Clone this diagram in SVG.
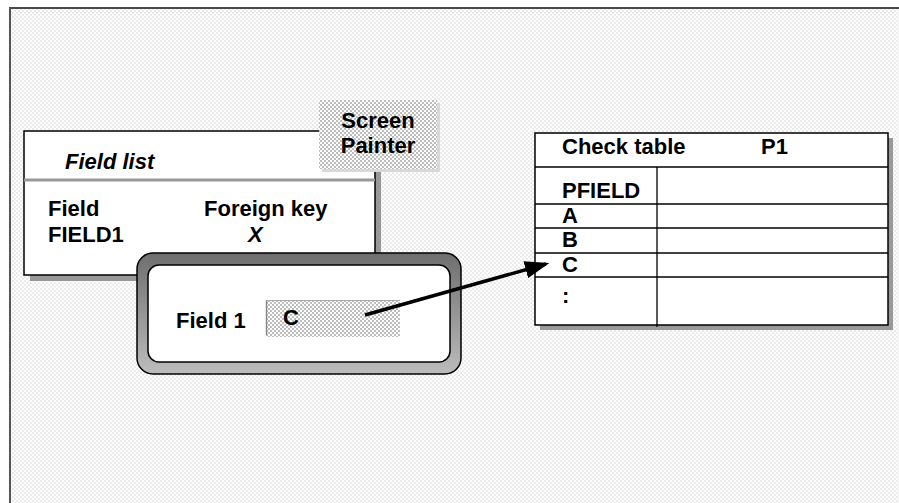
<svg xmlns="http://www.w3.org/2000/svg" width="899" height="503" viewBox="0 0 899 503">
<defs>
<pattern id="bg" width="4" height="4" patternUnits="userSpaceOnUse">
<rect width="4" height="4" fill="#ffffff"/>
<rect width="2" height="2" fill="#ebebeb"/>
<rect x="2" y="2" width="2" height="2" fill="#ebebeb"/>
</pattern>
<pattern id="dk" width="4" height="4" patternUnits="userSpaceOnUse">
<rect width="4" height="4" fill="#ffffff"/>
<rect width="2" height="2" fill="#bdbdbd"/>
<rect x="2" y="2" width="2" height="2" fill="#bdbdbd"/>
</pattern>
<linearGradient id="bezel" x1="0" y1="0" x2="0" y2="1">
<stop offset="0" stop-color="#6e6e6e"/>
<stop offset="1" stop-color="#bcbcbc"/>
</linearGradient>
<marker id="ah" markerWidth="7" markerHeight="5" refX="6" refY="2.5" orient="auto" markerUnits="strokeWidth">
<path d="M0,0 L7,2.5 L0,5 Z" fill="#000"/>
</marker>
<style>
.t{font-family:"Liberation Sans",Arial,sans-serif;font-weight:bold;font-size:22px;fill:#000}
.i{font-style:italic}
.box{fill:#fff;stroke:#000;stroke-width:1.5}
.sh{fill:#999}
.ln{stroke:#000;stroke-width:1.3}
</style>
</defs>
<rect x="10" y="8" width="889" height="495" fill="url(#bg)"/>
<line x1="9" y1="8" x2="899" y2="8" stroke="#111" stroke-width="1.5"/>
<line x1="10" y1="8" x2="10" y2="503" stroke="#555" stroke-width="2"/>

<g id="field-list">
<rect class="sh" x="30" y="137" width="351" height="144"/>
<rect class="box" x="24" y="131" width="351" height="144"/>
<line x1="24" y1="180" x2="375" y2="180" stroke="#999" stroke-width="3"/>
<text class="t i" x="65" y="169">Field list</text>
<text class="t" x="48" y="216">Field</text>
<text class="t" x="204" y="216">Foreign key</text>
<text class="t" x="48" y="242">FIELD1</text>
<text class="t i" x="248" y="242">X</text>
</g>

<g id="screen-painter">
<rect x="322" y="103" width="118" height="69" fill="#d8d8d8"/>
<rect x="319" y="100" width="118" height="69" fill="url(#dk)"/>
<text class="t" x="378" y="128" text-anchor="middle">Screen</text>
<text class="t" x="378" y="153" text-anchor="middle">Painter</text>
</g>

<g id="check-table">
<rect class="sh" x="540" y="138" width="353" height="192"/>
<rect class="box" x="535" y="133" width="353" height="192"/>
<line class="ln" x1="535" y1="167" x2="888" y2="167"/>
<line class="ln" x1="657" y1="167" x2="657" y2="327"/>
<line class="ln" x1="535" y1="204" x2="888" y2="204"/>
<line class="ln" x1="535" y1="228" x2="888" y2="228"/>
<line class="ln" x1="535" y1="253" x2="888" y2="253"/>
<line class="ln" x1="535" y1="277" x2="888" y2="277"/>
<text class="t" x="562" y="154">Check table</text>
<text class="t" x="761" y="154">P1</text>
<text class="t" x="562" y="198">PFIELD</text>
<text class="t" x="562" y="223">A</text>
<text class="t" x="562" y="247">B</text>
<text class="t" x="562" y="272">C</text>
<text class="t" x="562" y="303">:</text>
</g>

<g id="field1-window">
<rect x="137" y="253" width="324" height="121" rx="16" fill="url(#bezel)" stroke="#000" stroke-width="1.5"/>
<rect x="148" y="265" width="302" height="97" rx="11" fill="#fff" stroke="#000" stroke-width="1.5"/>
<text class="t" x="176" y="328">Field 1</text>
<rect x="266" y="300" width="134" height="37" fill="url(#dk)"/>
<line x1="266.5" y1="300" x2="266.5" y2="335" stroke="#888" stroke-width="1.5"/>
<line x1="266" y1="300.5" x2="400" y2="300.5" stroke="#aaa" stroke-width="1"/>
<text class="t" x="283" y="325">C</text>
</g>

<g id="connectors">
<line x1="365" y1="315" x2="546" y2="264" stroke="#000" stroke-width="3.5" marker-end="url(#ah)"/>
</g>
</svg>
